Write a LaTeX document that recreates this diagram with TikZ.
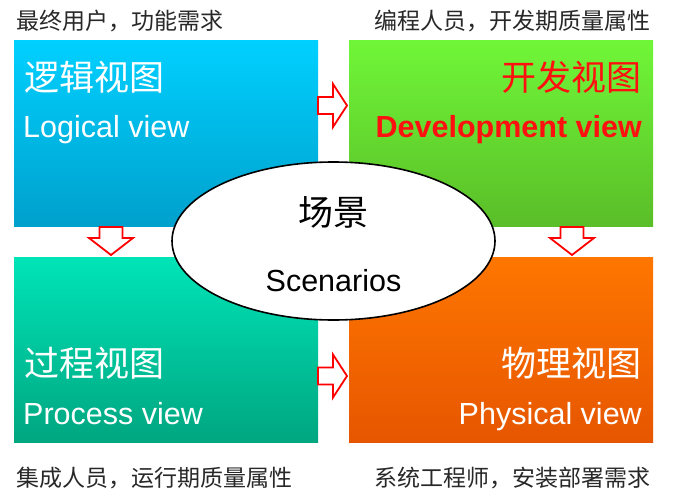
\documentclass[tikz,border=0pt]{standalone}
\usepackage{fontspec}
\setmainfont{Liberation Sans}
\newfontfamily\cjk{Noto Sans CJK SC}
\usetikzlibrary{shapes.geometric,shadows}

\definecolor{blueTop}{RGB}{0,208,255}
\definecolor{blueBot}{RGB}{0,160,204}
\definecolor{greenTop}{RGB}{112,246,56}
\definecolor{greenBot}{RGB}{90,190,40}
\definecolor{tealTop}{RGB}{0,228,184}
\definecolor{tealBot}{RGB}{0,166,128}
\definecolor{orangeTop}{RGB}{255,118,0}
\definecolor{orangeBot}{RGB}{230,86,0}
\definecolor{capGray}{RGB}{40,40,40}
\definecolor{devRed}{RGB}{255,16,16}

\tikzset{
  viewbox/.style={rectangle, inner sep=0pt, minimum width=304pt, minimum height=185pt,
    drop shadow={opacity=0.18, shadow xshift=0pt, shadow yshift=-1.2pt}},
  cjktitle/.style={inner sep=0pt, font=\cjk\fontsize{35}{40}\selectfont},
  entitle/.style={inner sep=0pt, font=\fontsize{30.5}{36}\selectfont},
  caption/.style={inner sep=0pt, text=capGray, font=\cjk\fontsize{23}{28}\selectfont},
  blockarrow/.style={draw=red, line width=1.8pt, fill=white, line join=miter},
  pics/rightarrow/.style={code={
    \path[blockarrow] (0,-8.5) -- (15,-8.5) -- (15,-21.5) -- (29,0) -- (15,21.5)
      -- (15,8.5) -- (0,8.5) -- cycle;}},
  pics/downarrow/.style={code={
    \path[blockarrow] (-11.5,0) -- (-11.5,11) -- (-22,11) -- (0,28) -- (22,11)
      -- (11.5,11) -- (11.5,0) -- cycle;}},
}

\begin{document}
\begin{tikzpicture}[x=1pt,y=-1pt]
  \useasboundingbox[fill=white] (0,0) rectangle (681,503);

  % the four view boxes
  \node[viewbox, top color=blueTop, bottom color=blueBot] (logical) at (166,133.5) {};
  \node[viewbox, top color=greenTop, bottom color=greenBot] (development) at (501,133.5) {};
  \node[viewbox, top color=tealTop, bottom color=tealBot] (process) at (166,349.5) {};
  \node[viewbox, top color=orangeTop, bottom color=orangeBot] (physical) at (501,349.5) {};

  % box titles
  \node[cjktitle, text=white, anchor=base west] (logicalZh) at (24,90.5) {逻辑视图};
  \node[entitle, text=white, anchor=base west] (logicalEn) at (23,138) {Logical view};
  \node[cjktitle, text=devRed, anchor=base east] (devZh) at (642,90.5) {开发视图};
  \node[entitle, text=devRed, font=\bfseries\fontsize{30.5}{36}\selectfont, anchor=base east] (devEn) at (642,138) {Development view};
  \node[cjktitle, text=white, anchor=base west] (processZh) at (24,376) {过程视图};
  \node[entitle, text=white, anchor=base west] (processEn) at (23,424) {Process view};
  \node[cjktitle, text=white, anchor=base east] (physicalZh) at (642,376) {物理视图};
  \node[entitle, text=white, anchor=base east] (physicalEn) at (642,424) {Physical view};

  % block arrows between the boxes
  \pic at (318,105.5) {rightarrow};
  \pic at (318,376) {rightarrow};
  \pic at (111,227) {downarrow};
  \pic at (572,227) {downarrow};

  % scenarios in the middle
  \node[ellipse, draw=black, line width=1.6pt, fill=white, inner sep=0pt,
        minimum width=323pt, minimum height=158pt] (scen) at (333.5,241) {};
  \node[cjktitle, anchor=base] (scenZh) at (333.5,225) {场景};
  \node[entitle, anchor=base] (scenEn) at (333.5,291) {Scenarios};

  % stakeholder captions
  \node[caption, anchor=base west] (capLogical) at (16,29.5) {最终用户，功能需求};
  \node[caption, anchor=base west] (capDev) at (374,29.5) {编程人员，开发期质量属性};
  \node[caption, anchor=base west] (capProcess) at (16,486) {集成人员，运行期质量属性};
  \node[caption, anchor=base west] (capPhysical) at (374,486) {系统工程师，安装部署需求};
\end{tikzpicture}
\end{document}
